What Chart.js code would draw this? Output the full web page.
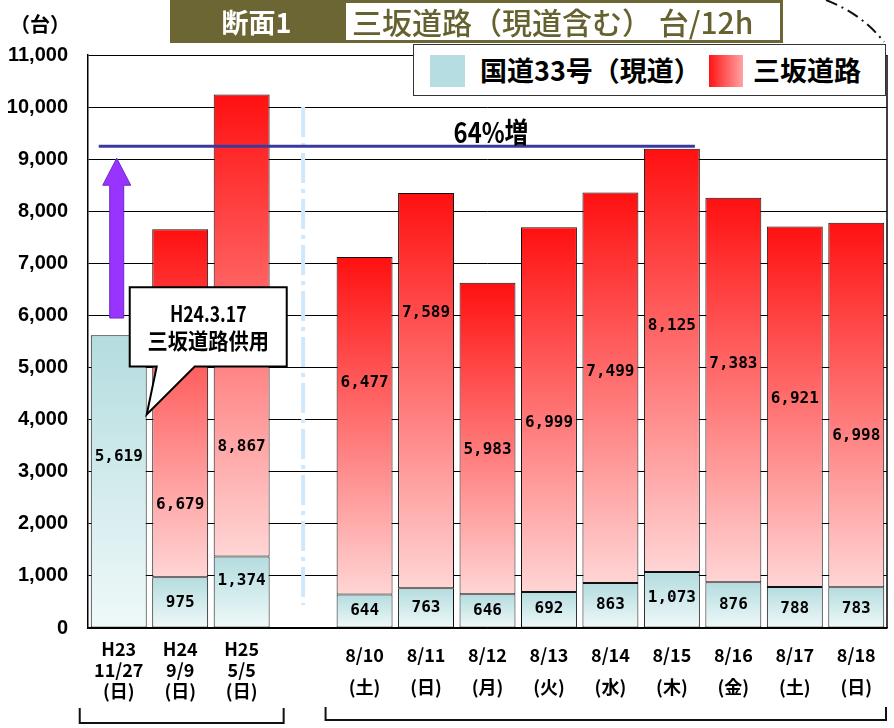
<!DOCTYPE html>
<html>
<head>
<meta charset="utf-8">
<script src="https://cdn.jsdelivr.net/npm/chart.js@4/dist/chart.umd.min.js"></script>
<style>
body { margin: 0; background: #fff; }
#wrap { position: relative; width: 894px; height: 728px; font-family: "Noto Sans CJK JP", sans-serif; }
#myChart { position: absolute; left: 0; top: 0; }
#unit { position: absolute; left: 10px; top: 10px; font-size: 20px; font-weight: bold; color: #000; line-height: 28px; }
#t1 { position: absolute; left: 170px; top: 0; width: 173px; height: 43px; background: #6b6633;
      color: #fff; font-size: 27px; font-weight: bold; line-height: 43px; text-align: center; }
#t2 { position: absolute; left: 343px; top: 0; height: 37px; border: 3px solid #6b6633;
      background: #fff; color: #66622f; font-size: 30px; font-weight: 500; line-height: 37px; padding-left: 6px; width: 428px; white-space: nowrap; }
#legend { position: absolute; left: 413px; top: 44px; width: 471px; height: 50px; border: 1.5px solid #333; background: #fff; }
#legend .sw { position: absolute; top: 10px; width: 35px; height: 32px; }
#legend .teal { left: 16px; background: #b6dde1; }
#legend .red { left: 295px; width: 34px; background: linear-gradient(to right, #ff1414, #ffa3a3); }
#legend .lt { position: absolute; top: 3px; font-size: 27px; font-weight: bold; line-height: 44px; color: #000; white-space: nowrap; }
</style>
</head>
<body>
<div id="wrap">
  <canvas id="myChart" width="894" height="728"></canvas>
  <div id="unit">（台）</div>
  <div id="t1">断面1</div>
  <div id="t2">三坂道路（現道含む）&nbsp;台/12h</div>
  <div id="legend">
    <span class="sw teal"></span><span class="lt" style="left:66px">国道33号（現道）</span>
    <span class="sw red"></span><span class="lt" style="left:339px">三坂道路</span>
  </div>
</div>
<script>
// categories (index 3 is the empty gap between the two groups)
var dayLabels = [
    ['H23', '11/27', '(日)'], ['H24', '9/9', '(日)'], ['H25', '5/5', '(日)'], '',
    ['8/10', '(土)'], ['8/11', '(日)'], ['8/12', '(月)'], ['8/13', '(火)'], ['8/14', '(水)'],
    ['8/15', '(木)'], ['8/16', '(金)'], ['8/17', '(土)'], ['8/18', '(日)']
];
var route33 = [5619, 975, 1374, null, 644, 763, 646, 692, 863, 1073, 876, 788, 783];
var misaka  = [null, 6679, 8867, null, 6477, 7589, 5983, 6999, 7499, 8125, 7383, 6921, 6998];
var yTicks  = [0, 11000, 1000];
var seriesNames = ['国道33号（現道）', '三坂道路'];

// where the value labels sit (in axis units)
var route33LabelAt = [3280, 480, 900, null, 326, 384, 326, 365, 441, 576, 441, 365, 365];
var misakaLabelAt  = [null, 2360, 3475, null, 4700, 6045, 3420, 3935, 4915, 5795, 5065, 4395, 3685];

function segGradient(context, topColor, bottomColor) {
    var chart = context.chart;
    var y = chart.scales.y;
    if (!chart.chartArea || !y || context.type !== 'data' || context.raw == null) return bottomColor;
    var i = context.dataIndex;
    var base = context.datasetIndex === 0 ? 0 : (route33[i] || 0);
    var top = base + context.raw;
    var g = chart.ctx.createLinearGradient(0, y.getPixelForValue(top), 0, y.getPixelForValue(base));
    g.addColorStop(0, topColor);
    g.addColorStop(1, bottomColor);
    return g;
}

function condensedText(ctx, text, x, y, font, sx) {
    ctx.save();
    ctx.translate(x, y);
    ctx.scale(sx, 1);
    ctx.font = font;
    ctx.fillText(text, 0, 0);
    ctx.restore();
}

var overlay = {
    id: 'overlay',
    beforeDatasetsDraw: function (chart) {
        var ctx = chart.ctx, a = chart.chartArea, x = chart.scales.x, y = chart.scales.y;
        ctx.save();
        // dash-dot separator in the gap
        var gx = x.getPixelForValue(3);
        ctx.strokeStyle = '#cfe8fb';
        ctx.lineWidth = 4;
        ctx.setLineDash([30, 6, 4, 6]);
        ctx.beginPath();
        ctx.moveTo(gx, y.getPixelForValue(10000));
        ctx.lineTo(gx, y.getPixelForValue(440));
        ctx.stroke();
        ctx.setLineDash([]);
        // plot frame right edge
        ctx.strokeStyle = '#000';
        ctx.lineWidth = 1.5;
        ctx.beginPath();
        ctx.moveTo(a.right, a.top);
        ctx.lineTo(a.right, a.bottom);
        ctx.stroke();
        ctx.restore();
    },
    afterDatasetsDraw: function (chart) {
        var ctx = chart.ctx, a = chart.chartArea, x = chart.scales.x, y = chart.scales.y;
        ctx.save();

        // value labels
        ctx.fillStyle = '#000';
        ctx.textAlign = 'center';
        ctx.textBaseline = 'middle';
        ctx.font = 'bold 16px "DejaVu Sans Mono"';
        route33.forEach(function (v, i) {
            if (v == null) return;
            ctx.fillText(v.toLocaleString('en-US'), x.getPixelForValue(i), y.getPixelForValue(route33LabelAt[i]));
        });
        misaka.forEach(function (v, i) {
            if (v == null) return;
            ctx.fillText(v.toLocaleString('en-US'), x.getPixelForValue(i), y.getPixelForValue(misakaLabelAt[i]));
        });

        // 64% line
        var x0 = x.getPixelForValue(0);
        var ly = y.getPixelForValue(9250);
        ctx.strokeStyle = '#3a3a9e';
        ctx.lineWidth = 3;
        ctx.beginPath();
        ctx.moveTo(x0 - 20, ly);
        ctx.lineTo(x.getPixelForValue(9) + 23, ly);
        ctx.stroke();
        ctx.fillStyle = '#000';
        condensedText(ctx, '64%増', 491, y.getPixelForValue(9520), 'bold 28px "Noto Sans CJK JP"', 0.85);

        // purple arrow
        var ax = x0 - 2;
        var tip = y.getPixelForValue(9020), hb = y.getPixelForValue(8500), sb = y.getPixelForValue(5950);
        ctx.fillStyle = '#9933ff';
        ctx.strokeStyle = '#6a2bc0';
        ctx.lineWidth = 1;
        ctx.beginPath();
        ctx.moveTo(ax, tip);
        ctx.lineTo(ax + 14, hb);
        ctx.lineTo(ax + 7, hb);
        ctx.lineTo(ax + 7, sb);
        ctx.lineTo(ax - 7, sb);
        ctx.lineTo(ax - 7, hb);
        ctx.lineTo(ax - 14, hb);
        ctx.closePath();
        ctx.fill();
        ctx.stroke();

        // callout
        var bl = x0 + 11, br = x0 + 168, bt = y.getPixelForValue(6540), bb = y.getPixelForValue(5020);
        var tx = x0 + 28, ty = y.getPixelForValue(4100);
        ctx.fillStyle = '#fff';
        ctx.strokeStyle = '#000';
        ctx.lineWidth = 2;
        ctx.beginPath();
        ctx.moveTo(bl, bt);
        ctx.lineTo(br, bt);
        ctx.lineTo(br, bb);
        ctx.lineTo(x0 + 76, bb);
        ctx.lineTo(tx, ty);
        ctx.lineTo(x0 + 38, bb);
        ctx.lineTo(bl, bb);
        ctx.closePath();
        ctx.fill();
        ctx.stroke();
        ctx.fillStyle = '#000';
        ctx.textAlign = 'center';
        condensedText(ctx, 'H24.3.17', (bl + br) / 2, bt + 26, 'bold 22px "Noto Sans CJK JP"', 0.8);
        condensedText(ctx, '三坂道路供用', (bl + br) / 2, bt + 53, 'bold 22px "Noto Sans CJK JP"', 0.92);

        // group brackets
        ctx.strokeStyle = '#111';
        ctx.lineWidth = 2;
        ctx.beginPath();
        ctx.moveTo(x0 - 39, 708); ctx.lineTo(x0 - 39, 723);
        ctx.lineTo(x.getPixelForValue(2) + 42, 723); ctx.lineTo(x.getPixelForValue(2) + 42, 708);
        ctx.moveTo(x.getPixelForValue(4) - 39, 707); ctx.lineTo(x.getPixelForValue(4) - 39, 720);
        ctx.lineTo(a.right - 1, 720); ctx.lineTo(a.right - 1, 707);
        ctx.stroke();

        // dash-dot arc at top right
        ctx.setLineDash([12, 5, 2, 5]);
        ctx.beginPath();
        ctx.moveTo(826, 0);
        ctx.quadraticCurveTo(862, 14, 884, 42);
        ctx.stroke();
        ctx.restore();
    }
};

var ctx = document.getElementById('myChart').getContext('2d');
var myChart = new Chart(ctx, {
    type: 'bar',
    data: {
        labels: dayLabels,
        datasets: [{
            label: seriesNames[0],
            data: route33,
            backgroundColor: function (c) { return segGradient(c, '#b4dcdf', '#f0f9f9'); },
            borderColor: '#111',
            borderWidth: 1,
            borderSkipped: false
        }, {
            label: seriesNames[1],
            data: misaka,
            backgroundColor: function (c) { return segGradient(c, '#ff1010', '#ffd5d5'); },
            borderColor: '#111',
            borderWidth: 1,
            borderSkipped: false
        }]
    },
    options: {
        responsive: false,
        animation: false,
        layout: { padding: { top: 55, right: 7, left: 0, bottom: 0 } },
        datasets: { bar: { barPercentage: 0.91, categoryPercentage: 1 } },
        plugins: { legend: { display: false }, tooltip: { enabled: false } },
        scales: {
            x: {
                stacked: true,
                afterFit: function (s) { s.height = 100; },
                grid: { display: false },
                border: { display: true, color: '#000', width: 1.5 },
                ticks: {
                    autoSkip: false,
                    maxRotation: 0,
                    padding: 3,
                    color: '#000',
                    font: function (c) {
                        return { family: '"Noto Sans CJK JP"', size: 18, weight: 'bold', lineHeight: c.index >= 4 ? 1.8 : 1.15 };
                    }
                }
            },
            y: {
                stacked: true,
                min: yTicks[0],
                max: yTicks[1],
                afterFit: function (s) { s.width = 88; },
                grid: { color: '#000', lineWidth: 1, drawTicks: false },
                border: { display: true, color: '#000', width: 1.5 },
                ticks: {
                    stepSize: yTicks[2],
                    padding: 20,
                    color: '#000',
                    font: { family: '"Liberation Sans"', size: 20, weight: 'bold' },
                    callback: function (v) { return v.toLocaleString('en-US'); }
                }
            }
        }
    },
    plugins: [overlay]
});
</script>
</body>
</html>
